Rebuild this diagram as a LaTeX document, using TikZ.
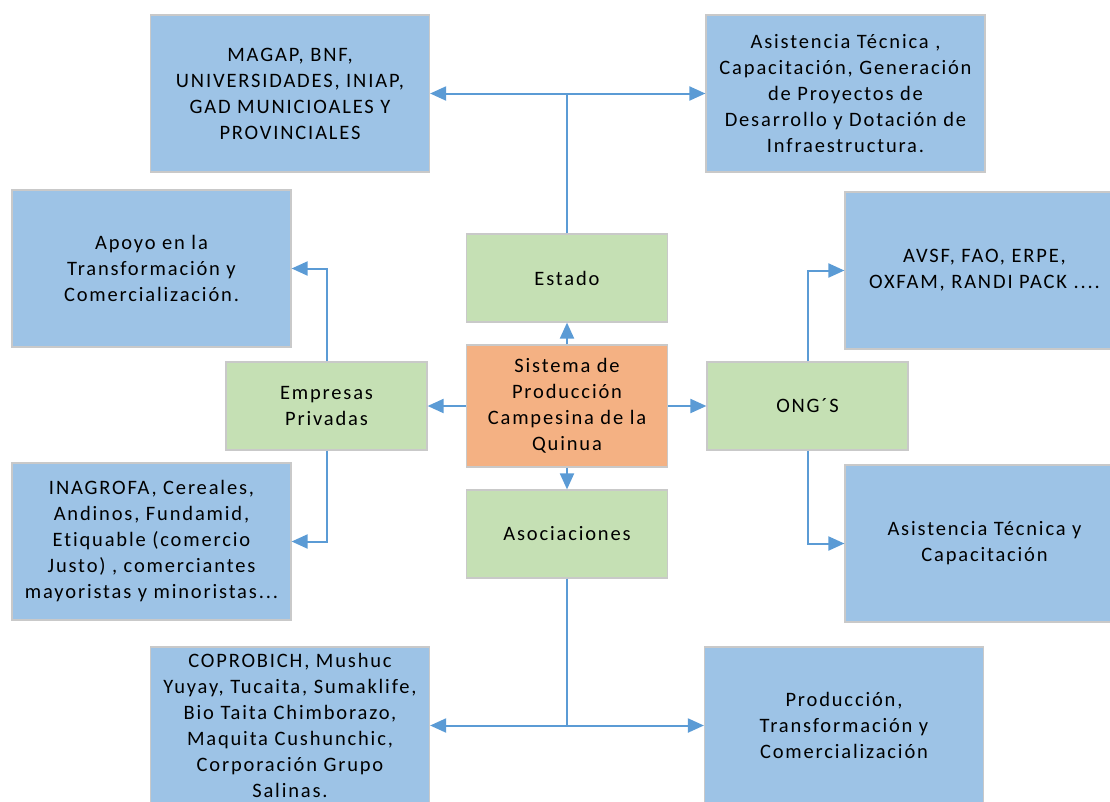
\documentclass[tikz,border=0pt]{standalone}
\usepackage{fontspec}
\setmainfont[LetterSpace=9,Ligatures=NoCommon]{Carlito}
\usepackage{tikz}
\usetikzlibrary{arrows.meta}

\definecolor{cajaazul}{HTML}{9DC3E6}
\definecolor{cajaverde}{HTML}{C5E0B4}
\definecolor{cajanaranja}{HTML}{F4B183}
\definecolor{borde}{HTML}{C9C9C9}
\definecolor{linea}{HTML}{5B9BD5}

\begin{document}
\begin{tikzpicture}[x=1pt,y=-1pt,
	caja/.style={draw=borde, line width=1.2pt, align=center, inner sep=0pt,
		font=\fontsize{20.5}{26}\selectfont},
	azul/.style={caja, fill=cajaazul, minimum width=279pt, minimum height=157pt},
	verde/.style={caja, fill=cajaverde, minimum width=201pt, minimum height=88pt},
	flecha/.style={draw=linea, line width=2pt, -{Triangle[length=16pt,width=14pt]}}]
	
	\useasboundingbox (0,0) rectangle (1110,801);
	
	\node[caja, fill=cajanaranja, minimum width=201pt, minimum height=122pt] (centro) at (567,406)
		{Sistema de\\Producción\\Campesina de la\\Quinua};
	\node[verde] (estado) at (567,278) {Estado};
	\node[verde] (empresas) at (326.5,406) {Empresas\\Privadas};
	\node[verde] (ong) at (807.5,406) {ONG´S};
	\node[verde] (asoc) at (567,534) {Asociaciones};
	
	\node[azul] (magap) at (290,93.5) {MAGAP, BNF,\\UNIVERSIDADES, INIAP,\\GAD MUNICIOALES Y\\PROVINCIALES};
	\node[azul] (asistE) at (845.5,93.5) {Asistencia Técnica ,\\Capacitación, Generación\\de Proyectos de\\Desarrollo y Dotación de\\Infraestructura.};
	\node[azul] (apoyo) at (151.5,268.5) {Apoyo en la\\Transformación y\\Comercialización.};
	\node[azul] (avsf) at (984.5,270.5) {AVSF, FAO, ERPE,\\OXFAM, RANDI PACK ....};
	\node[azul] (inagrofa) at (151.5,541.5) {INAGROFA, Cereales,\\Andinos, Fundamid,\\Etiquable (comercio\\Justo) , comerciantes\\mayoristas y minoristas...};
	\node[azul] (asistO) at (984.5,543.5) {Asistencia Técnica y\\Capacitación};
	\node[azul] (coprobich) at (290,725.5) {COPROBICH, Mushuc\\Yuyay, Tucaita, Sumaklife,\\Bio Taita Chimborazo,\\Maquita Cushunchic,\\Corporación Grupo\\Salinas.};
	\node[azul] (produccion) at (844,725.5) {Producción,\\Transformación y\\Comercialización};
	
	\draw[flecha] (centro.north) -- (estado.south);
	\draw[flecha] (centro.west) -- (empresas.east);
	\draw[flecha] (centro.east) -- (ong.west);
	\draw[flecha] (centro.south) -- (asoc.north);
	
	\draw[flecha] (estado.north) |- (magap.east);
	\draw[flecha] (estado.north) |- (asistE.west);
	\draw[flecha] (empresas.north) |- (apoyo.east);
	\draw[flecha] (empresas.south) |- (inagrofa.east);
	\draw[flecha] (ong.north) |- (avsf.west);
	\draw[flecha] (ong.south) |- (asistO.west);
	\draw[flecha] (asoc.south) |- (coprobich.east);
	\draw[flecha] (asoc.south) |- (produccion.west);
	
\end{tikzpicture}
\end{document}
